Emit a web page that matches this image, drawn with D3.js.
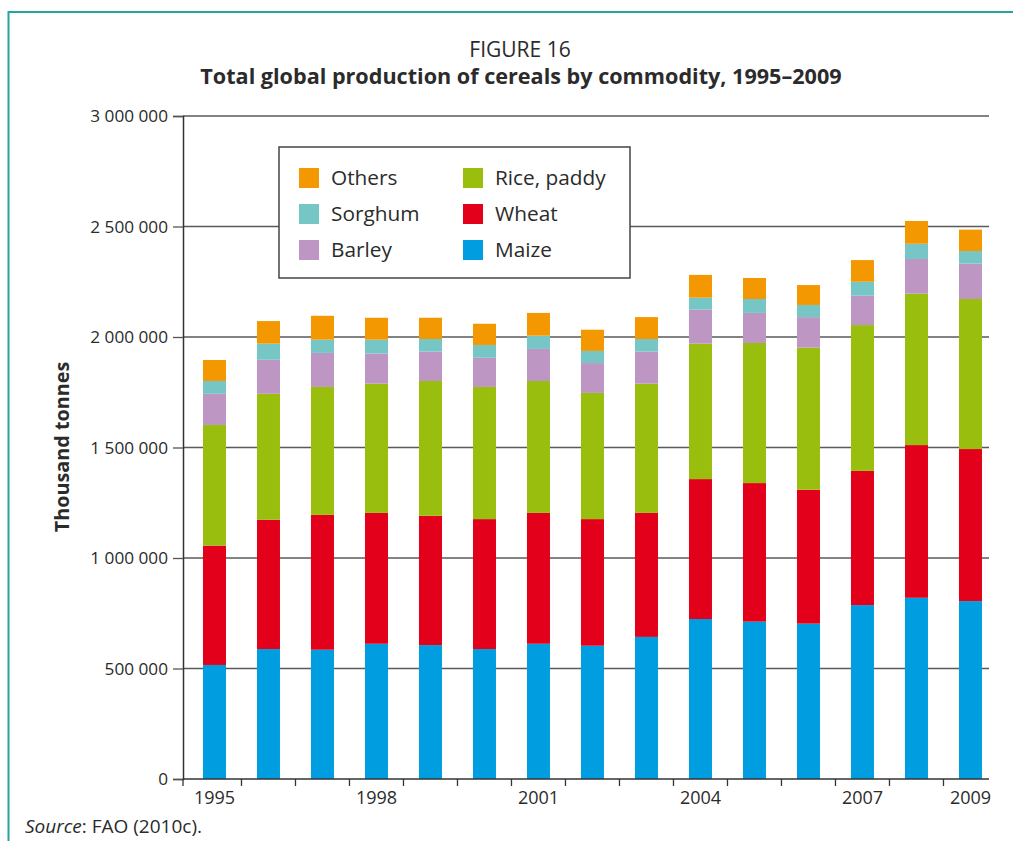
<!DOCTYPE html>
<html>
<head>
<meta charset="utf-8">
<script src="https://cdn.jsdelivr.net/npm/d3@7"></script>
<style>
  html, body { margin: 0; padding: 0; background: #fff; }
  svg { display: block; }
  text { font-family: "Open Sans", "Noto Sans", sans-serif; fill: #2b2b2b; }
</style>
</head>
<body>
<svg id="chart" width="1013" height="841"></svg>
<script>
// ---- Data (thousand tonnes) ----
const years = [1995, 1996, 1997, 1998, 1999, 2000, 2001, 2002, 2003, 2004, 2005, 2006, 2007, 2008, 2009];
const maize   = [516000, 588000, 585000, 612000, 606000, 588000, 612000, 603000, 643000, 724000, 712000, 703000, 787000, 820000, 805000];
const wheat   = [540000, 585000, 610000, 592000, 585000, 588000, 592000, 573000, 561000, 633000, 627000, 606000, 607000, 691000, 688000];
const rice    = [546000, 570000, 579000, 585000, 610000, 598000, 597000, 571000, 585000, 613000, 634000, 643000, 660000, 685000, 679000];
const barley  = [141000, 154000, 154000, 136000, 133000, 132000, 145000, 135000, 145000, 154000, 136000, 138000, 133000, 157000, 160000];
const sorghum = [58000, 73000, 60000, 63000, 57000, 58000, 60000, 55000, 57000, 54000, 63000, 55000, 63000, 69000, 57000];
const others  = [95000, 102000, 108000, 99000, 96000, 96000, 103000, 96000, 99000, 103000, 95000, 90000, 98000, 103000, 97000];

const seriesNames = ["Maize", "Wheat", "Rice, paddy", "Barley", "Sorghum", "Others"];
const seriesColors = ["#009ee0", "#e2001a", "#9abe0d", "#bd96c3", "#76c6c6", "#f39800"];
const yTicks = [0, 500000, 1000000, 1500000, 2000000, 2500000, 3000000];
const xLabelYears = [1995, 1998, 2001, 2004, 2007, 2009];
const legendOrder = ["Others", "Rice, paddy", "Sorghum", "Wheat", "Barley", "Maize"];

const rows = years.map((yr, i) => ({
  year: yr,
  "Maize": maize[i], "Wheat": wheat[i], "Rice, paddy": rice[i],
  "Barley": barley[i], "Sorghum": sorghum[i], "Others": others[i]
}));

const svg = d3.select("#chart");
const color = d3.scaleOrdinal().domain(seriesNames).range(seriesColors);

// Frame
svg.append("path")
  .attr("d", "M8.5,841 L8.5,12 L1013,12")
  .attr("fill", "none").attr("stroke", "#27a3a0").attr("stroke-width", 2);

// Titles
svg.append("text").attr("x", 520).attr("y", 57).attr("text-anchor", "middle")
  .style("font-size", "21px").text("FIGURE 16");
svg.append("text").attr("x", 521).attr("y", 84).attr("text-anchor", "middle")
  .style("font-size", "21.6px").style("font-weight", "700")
  .text("Total global production of cereals by commodity, 1995\u20132009");

// Scales
const plotL = 183, plotR = 989, plotT = 116, plotB = 779;
const x = d3.scaleBand().domain(years).range([plotL, plotR])
  .paddingInner(0.574).paddingOuter(0.25).align(0.74);
const y = d3.scaleLinear().domain([0, 3000000]).range([plotB, plotT]);

// Gridlines
svg.append("g").selectAll("line").data(yTicks.filter(d => d > 0)).join("line")
  .attr("x1", plotL).attr("x2", plotR)
  .attr("y1", d => y(d)).attr("y2", d => y(d))
  .attr("stroke", "#5a5a5a").attr("stroke-width", 1.3);

// Bars
const stacked = d3.stack().keys(seriesNames)(rows);
svg.append("g").selectAll("g").data(stacked).join("g")
  .attr("fill", d => color(d.key))
  .selectAll("rect").data(d => d).join("rect")
  .attr("x", d => x(d.data.year))
  .attr("width", x.bandwidth())
  .attr("y", d => y(d[1]))
  .attr("height", d => y(d[0]) - y(d[1]));

// Y axis
const fmt = d => d3.format(",")(d).replace(/,/g, " ");
const yAxis = svg.append("g").attr("transform", `translate(${plotL},0)`)
  .call(d3.axisLeft(y).tickValues(yTicks).tickFormat(fmt).tickSize(10).tickPadding(5));
yAxis.select(".domain").attr("stroke", "#333").attr("stroke-width", 1.5);
yAxis.selectAll(".tick line").attr("stroke", "#555").attr("stroke-width", 1.3);
yAxis.selectAll(".tick text").style("font-size", "17.2px")
  .style("font-family", "'Open Sans', sans-serif").attr("fill", "#333");

// X axis line
svg.append("line").attr("x1", plotL).attr("x2", plotR).attr("y1", plotB).attr("y2", plotB)
  .attr("stroke", "#333").attr("stroke-width", 1.5);
// X ticks at band boundaries
const gap = x.step() - x.bandwidth();
const tickXs = [plotL].concat(years.slice(1).map(yr => x(yr) - gap / 2));
svg.append("g").selectAll("line").data(tickXs).join("line")
  .attr("x1", d => d).attr("x2", d => d)
  .attr("y1", plotB).attr("y2", plotB + 7)
  .attr("stroke", "#333").attr("stroke-width", 1.3);
svg.append("g").selectAll("text").data(xLabelYears).join("text")
  .attr("x", d => x(d) + x.bandwidth() / 2)
  .attr("y", 803.5)
  .attr("text-anchor", "middle")
  .style("font-size", "18px").attr("fill", "#333")
  .text(d => d);

// Y title
svg.append("text")
  .attr("transform", "translate(68.5,447) rotate(-90)")
  .attr("text-anchor", "middle")
  .style("font-size", "19.8px").style("font-weight", "700")
  .text("Thousand tonnes");

// Legend
const lg = svg.append("g");
lg.append("rect").attr("x", 279).attr("y", 147).attr("width", 351).attr("height", 131)
  .attr("fill", "#fff").attr("stroke", "#444").attr("stroke-width", 1.5);
const items = lg.selectAll("g.item").data(legendOrder).join("g").attr("class", "item")
  .attr("transform", (d, i) => `translate(${i % 2 === 0 ? 299 : 463},${168 + Math.floor(i / 2) * 36})`);
items.append("rect").attr("width", 20).attr("height", 20).attr("fill", d => color(d));
items.append("text").attr("x", 32).attr("y", 17).style("font-size", "20.8px").attr("fill", "#222").text(d => d);

// Source
const src = svg.append("text").attr("x", 25).attr("y", 833).style("font-size", "19px");
src.append("tspan").style("font-style", "italic").text("Source");
src.append("tspan").text(": FAO (2010c).");
</script>
</body>
</html>
